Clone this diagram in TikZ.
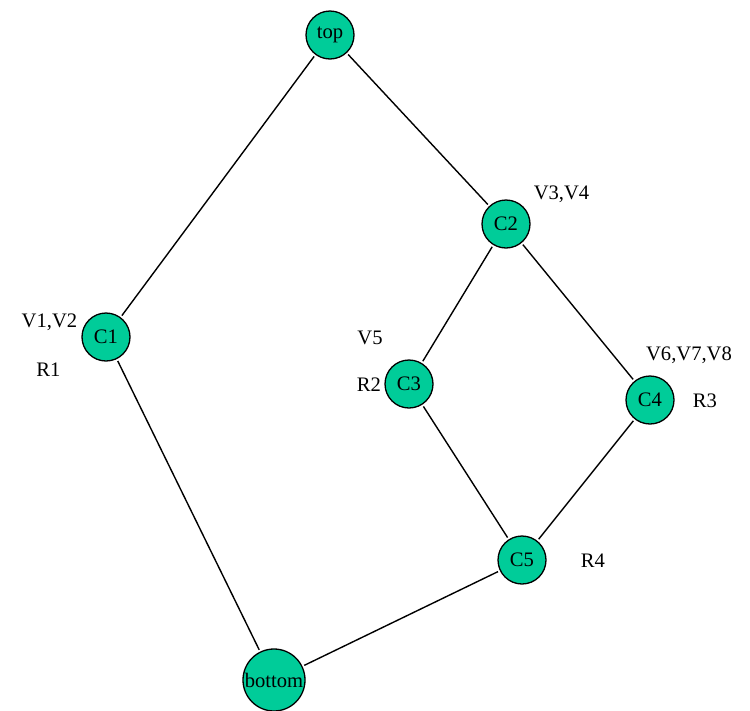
\documentclass[tikz,border=0pt]{standalone}
\usepackage{fontspec}
\setmainfont{Liberation Serif}
\definecolor{nodegreen}{HTML}{00CC99}
\tikzset{
  vertex/.style={circle, draw=black, line width=1.3pt, fill=nodegreen,
    minimum size=48pt, inner sep=0pt, font=\fontsize{20.6}{24}\selectfont},
  bigvertex/.style={vertex, minimum size=62pt},
  tag/.style={anchor=base, inner sep=0pt, font=\fontsize{20.6}{24}\selectfont},
  link/.style={line width=1.4pt, shorten >=2pt, shorten <=2pt}
}
\begin{document}
\begin{tikzpicture}[x=1pt, y=-1pt]
  \useasboundingbox (0,0) rectangle (750,710);
  % lattice nodes
  \node[vertex] (top) at (330,35) {top};
  \node[vertex] (c2) at (506,224) {C2};
  \node[vertex] (c1) at (106,337) {C1};
  \node[vertex] (c3) at (409,384) {C3};
  \node[vertex] (c4) at (650,400) {C4};
  \node[vertex] (c5) at (522,560) {C5};
  \node[bigvertex] (bottom) at (274,680) {bottom};
  % edges
  \draw[link] (top) -- (c1);
  \draw[link] (top) -- (c2);
  \draw[link] (c2) -- (c3);
  \draw[link] (c2) -- (c4);
  \draw[link] (c1) -- (bottom);
  \draw[link] (c3) -- (c5);
  \draw[link] (c4) -- (c5);
  \draw[link] (c5) -- (bottom);
  % annotations
  \node[tag] (v12) at (49.5,327) {V1,V2};
  \node[tag] (r1) at (48.5,376) {R1};
  \node[tag] (v34) at (561.5,199) {V3,V4};
  \node[tag] (v5) at (370,344) {V5};
  \node[tag] (r2) at (369,391) {R2};
  \node[tag] (v678) at (689,360) {V6,V7,V8};
  \node[tag] (r3) at (705,407) {R3};
  \node[tag] (r4) at (593,567) {R4};
\end{tikzpicture}
\end{document}
